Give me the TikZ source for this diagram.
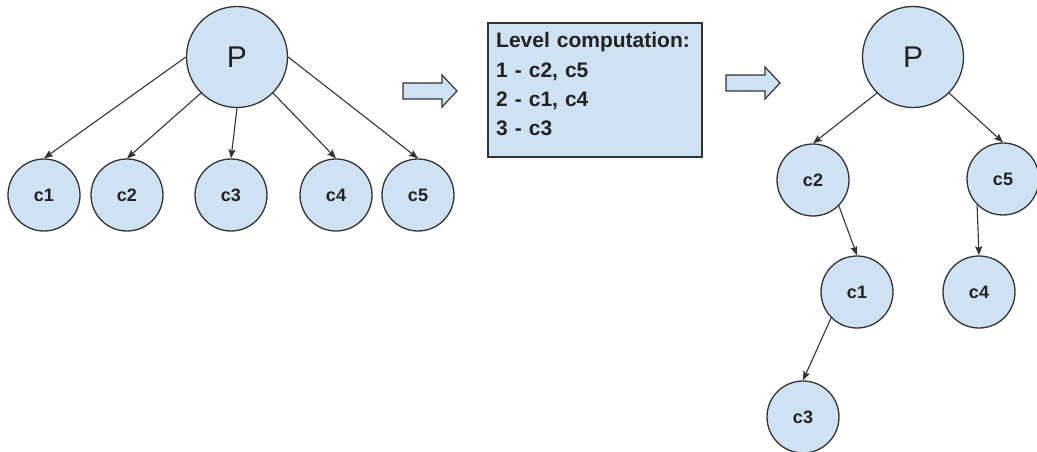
\documentclass[tikz,border=0pt]{standalone}
\usepackage{fontspec}
\setmainfont{Liberation Sans}
\usetikzlibrary{arrows.meta}
\definecolor{nodefill}{HTML}{CFE2F3}
\definecolor{inkline}{HTML}{333333}
\definecolor{inktext}{HTML}{222222}

\tikzset{
  circ/.style={circle, draw=inkline, line width=1.3pt, fill=nodefill,
    inner sep=0pt, minimum size=72pt, text=inktext,
    font=\fontsize{18}{18}\selectfont\bfseries},
  root/.style={circ, minimum size=101pt, font=\fontsize{30}{30}\selectfont},
  link/.style={draw=inkline, line width=1.1pt,
    -{Stealth[length=9pt,width=7pt,inset=1.5pt]}},
  levelbox/.style={rectangle, draw=inkline, line width=1.3pt, fill=nodefill,
    minimum width=214pt, minimum height=134pt, inner sep=0pt},
  leveltext/.style={inner sep=0pt, text width=200pt, align=left, text=inktext,
    font=\fontsize{21}{29.3}\selectfont\bfseries},
  blockarrow/.style={draw=inkline, line width=1.2pt, fill=nodefill, line join=miter},
  pics/fatarrow/.style={code={
    \path[blockarrow] (0,-8) -- (39,-8) -- (39,-16) -- (54,0) -- (39,16)
      -- (39,8) -- (0,8) -- cycle;}}
}

\begin{document}
\begin{tikzpicture}[x=1pt, y=-1pt]
  \useasboundingbox (0,0) rectangle (1037,452);

  % flat tree: every child hangs off P
  \node[root] (lp) at (237,57) {P};
  \node[circ] (l1) at (44,195)  {c1};
  \node[circ] (l2) at (127,195) {c2};
  \node[circ] (l3) at (231,195) {c3};
  \node[circ] (l4) at (336,195) {c4};
  \node[circ] (l5) at (418,195) {c5};

  \draw[link] (lp.west)       -- (l1.north);
  \draw[link] (lp.south west) -- (l2.north);
  \draw[link] (lp.south)      -- (l3.north);
  \draw[link] (lp.south east) -- (l4.north);
  \draw[link] (lp.east)       -- (l5.north);

  % first step arrow
  \pic at (403,91) {fatarrow};

  % level table
  \node[levelbox] (levels) at (595,90) {};
  \node[leveltext, anchor=base west] (levelslist) at (496,48)
    {Level computation:\\1 - c2, c5\\2 - c1, c4\\3 - c3};

  % second step arrow
  \pic at (726,83) {fatarrow};

  % rebuilt tree by level
  \node[root] (rp) at (913,57) {P};
  \node[circ] (r2) at (813,180) {c2};
  \node[circ] (r5) at (1003,179) {c5};
  \node[circ] (r1) at (857,292) {c1};
  \node[circ] (r4) at (979,292) {c4};
  \node[circ] (r3) at (803,417) {c3};

  \draw[link] (rp.south west) -- (r2.north);
  \draw[link] (rp.south east) -- (r5.north);
  \draw[link] (r2.south east) -- (r1.north);
  \draw[link] (r5.south west) -- (r4.north);
  \draw[link] (r1.south west) -- (r3.north);
\end{tikzpicture}
\end{document}
